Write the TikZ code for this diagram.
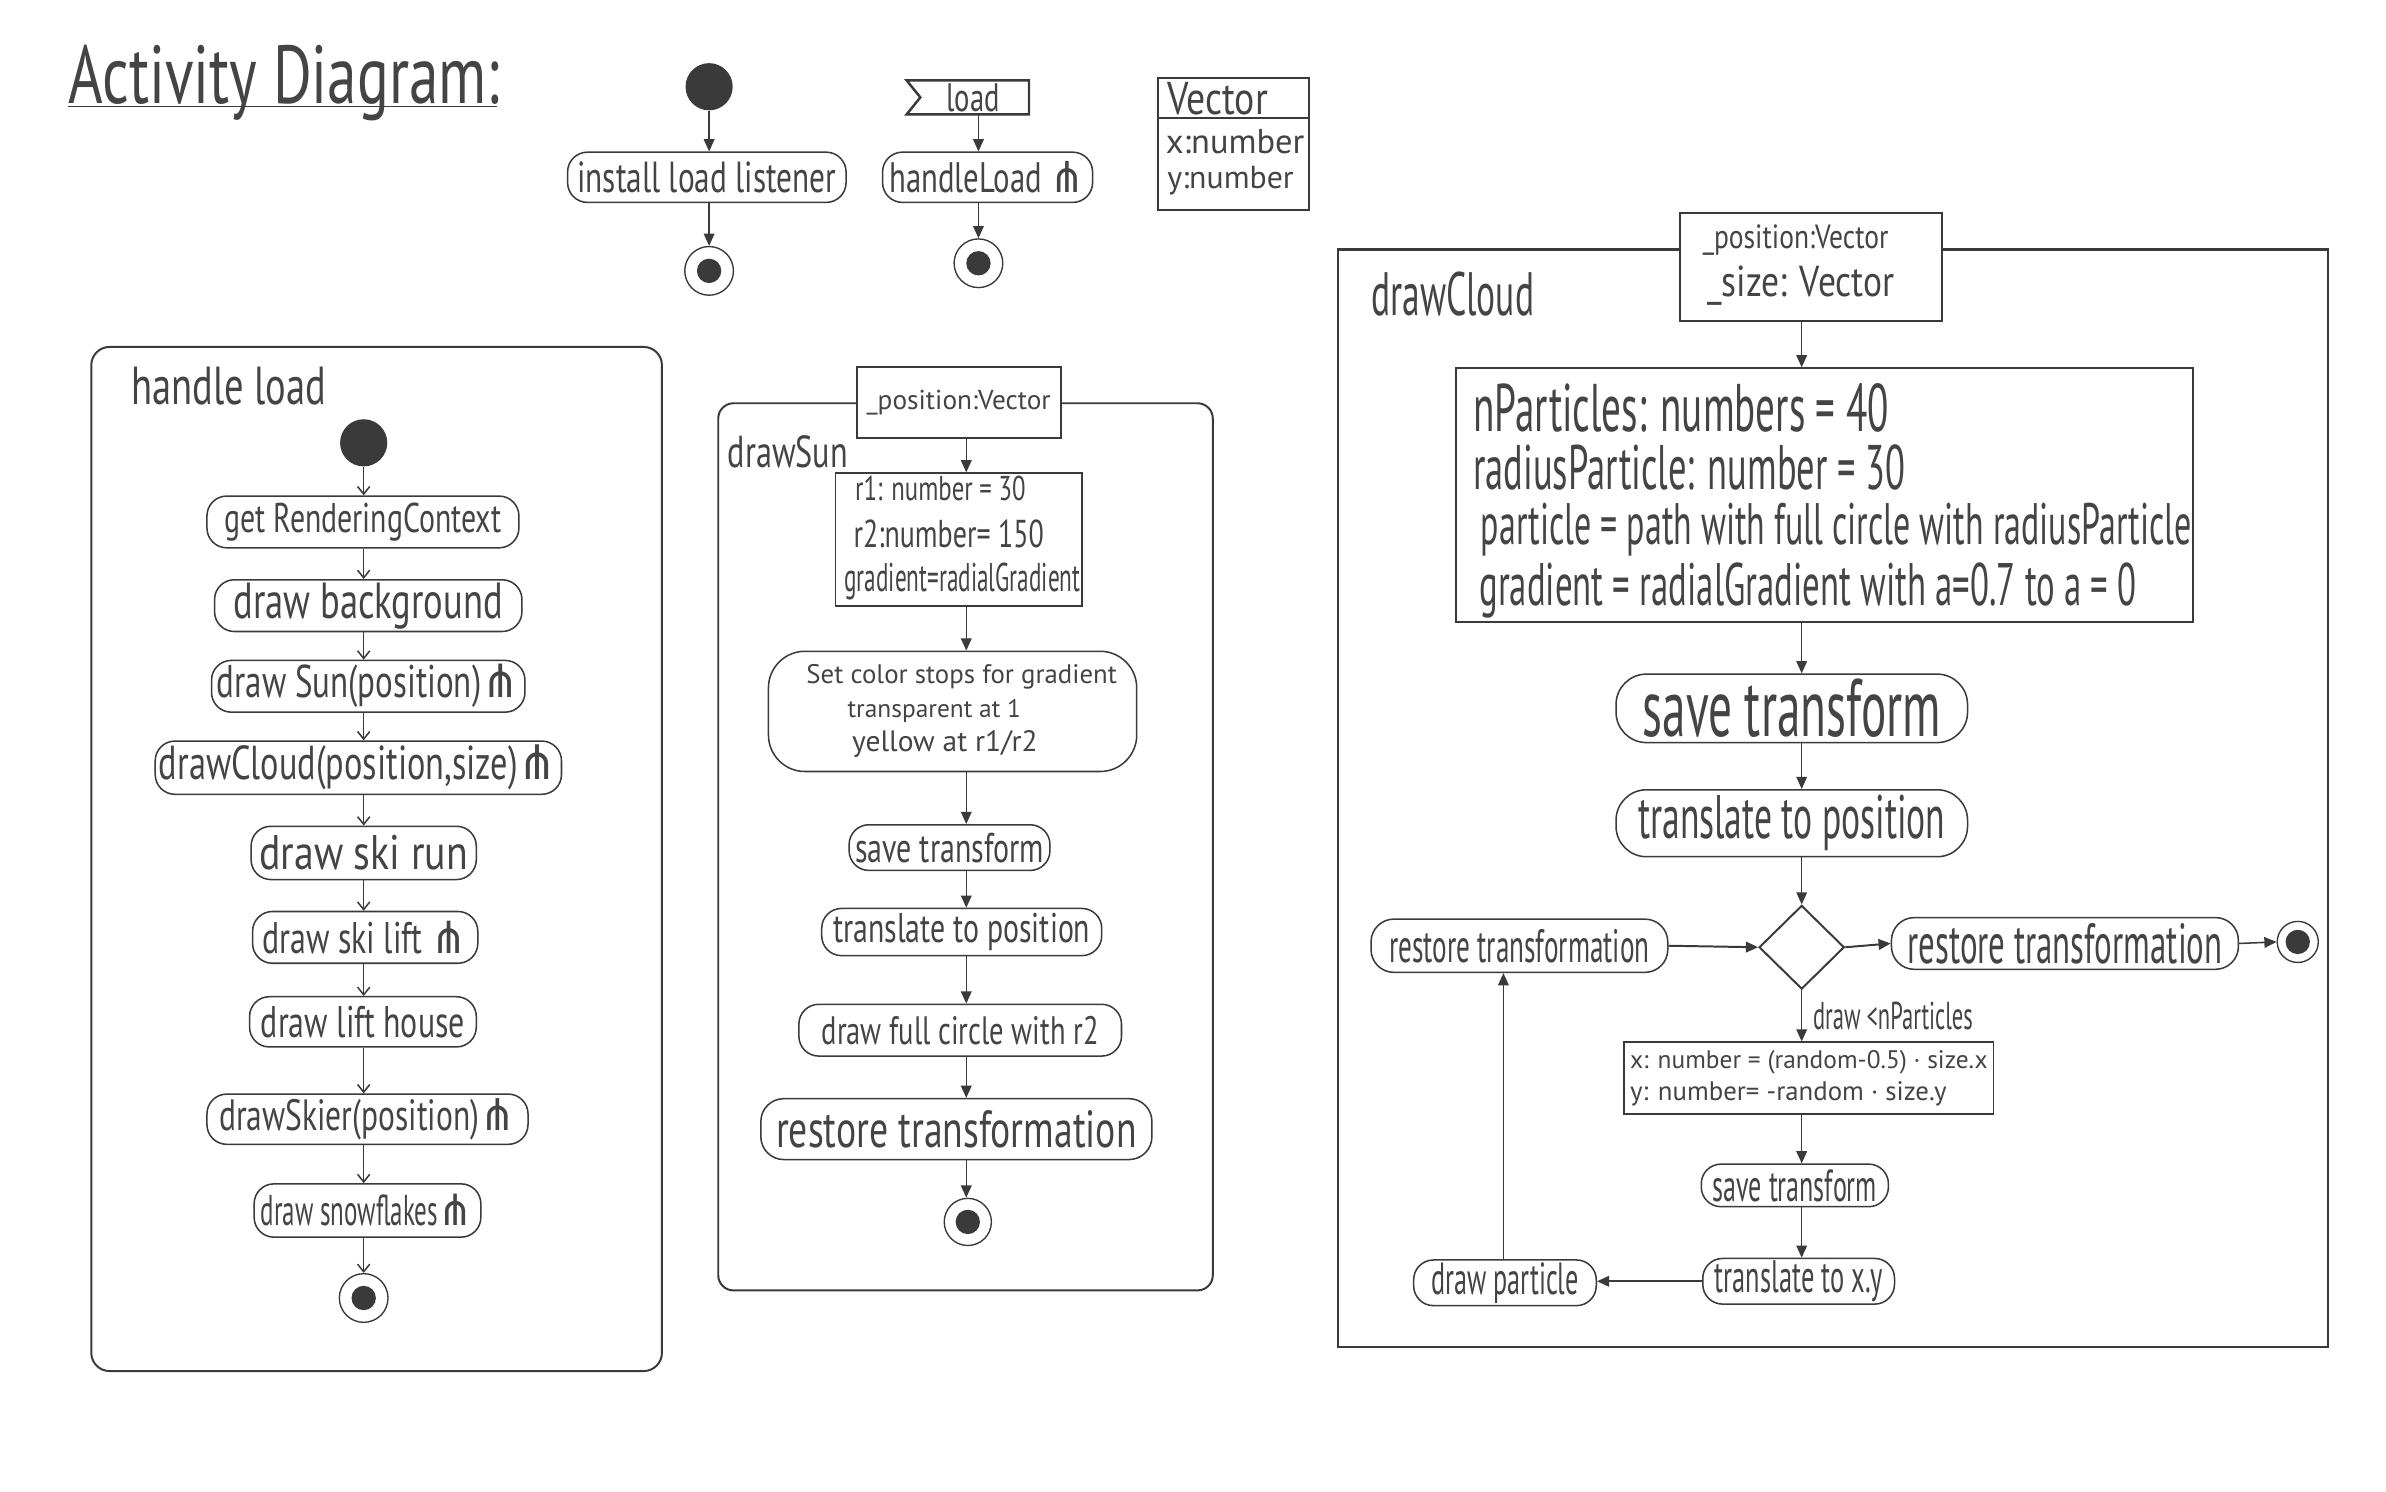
\documentclass[tikz,border=0pt]{standalone}
\usepackage{fontspec}
\usepackage{graphicx}
\setmainfont{PT Sans}
\newfontfamily\hand{PT Sans}[FakeStretch=0.72]
\newfontfamily\handn{PT Sans}[FakeStretch=0.58]
\newfontfamily\handm{PT Sans}[FakeStretch=0.82]
\newfontfamily\handw{PT Sans}
\newfontfamily\symf{DejaVu Sans}
\usetikzlibrary{arrows.meta,shapes.geometric,calc}
\definecolor{ink}{RGB}{58,58,58}
\definecolor{pen}{RGB}{68,68,68}
% text set to a given width
\newcommand\tw[2]{\resizebox{#1pt}{!}{#2}}
% rake symbol of a call behaviour action
\newcommand\rk{{\symf ⋔}}

\tikzset{
  act/.style={draw=ink, line width=1pt, rounded corners=13pt, fill=white,
    inner sep=0pt, text=pen, font=\hand},
  sz/.style 2 args={minimum width=#1pt, minimum height=#2pt},
  box/.style={draw=ink, line width=1.2pt, fill=white, inner sep=0pt, text=pen},
  txt/.style={inner sep=0pt, text=pen, font=\hand},
  txtn/.style={inner sep=0pt, text=pen, font=\handn},
  txtm/.style={inner sep=0pt, text=pen, font=\handm},
  txtw/.style={inner sep=0pt, text=pen, font=\handw},
  flow/.style={draw=ink, line width=1pt, -{Triangle[length=8pt,width=7pt]}},
  vflow/.style={draw=ink, line width=1pt, -{Straight Barb[length=5pt,width=8pt]}},
  initnode/.style={circle, fill=ink, minimum size=31pt, inner sep=0pt},
  finalnode/.style={circle, draw=ink, line width=0.9pt, fill=white,
    minimum size=#1pt, inner sep=0pt,
    path picture={\fill[ink] (path picture bounding box.center) circle (8pt);}},
  frame/.style={draw=ink, line width=1.3pt, inner sep=0pt},
}

\begin{document}
\begin{tikzpicture}[x=1pt,y=-1pt]
\fill[white] (0,0) rectangle (1568,980);
\useasboundingbox (0,0) rectangle (1568,980);

% ---------- title ----------
\node[txt, anchor=base west] (title) at (45,68) {\tw{283}{Activity Diagram:}};
\draw[ink, line width=1.2pt] ($(title.base west)+(0,2)$) -- ($(title.base east)+(-2,2)$);

% ---------- main program ----------
\node[initnode] (s0) at (466,57) {};
\node[act, sz={183}{33}] (inst) at (464.5,116.5) {\tw{170}{install load listener}};
\node[finalnode=32] (e0) at (466,178) {};
\coordinate (mx) at (466,0);
\draw[flow] (mx |- s0.south) -- (mx |- inst.north);
\draw[flow] (mx |- inst.south) -- (e0);

% ---------- load event ----------
\node[txt, minimum width=80pt, minimum height=22pt] (evt) at (636,64) {\hspace*{7pt}\tw{35}{load}};
\draw[ink, line width=1.6pt] (evt.north west) -- (evt.north east) -- (evt.south east)
  -- (evt.south west) -- ($(evt.west)+(9,0)$) -- cycle;
\node[act, sz={138}{33}] (hl) at (649,116.5) {\tw{129}{handleLoad \rk}};
\node[finalnode=32] (e1) at (643,173) {};
\coordinate (lx) at (643,0);
\draw[flow] (lx |- evt.south) -- (lx |- hl.north);
\draw[flow] (lx |- hl.south) -- (e1);

% ---------- Vector class ----------
\node[box, line width=1.4pt, sz={99}{87}] (vec) at (810.5,94.5) {};
\draw[ink, line width=1.4pt] ($(vec.north west)+(0,27)$) -- ($(vec.north east)+(0,27)$);
\node[txtm, anchor=west] (vname) at (767,65) {\tw{66}{Vector}};
\node[txtw, anchor=west] (vx) at (766,93) {\tw{91}{x:number}};
\node[txtw, anchor=west] (vy) at (767,119) {\tw{83}{y:number}};

% ---------- handle load ----------
\node[frame, rounded corners=12pt, sz={375}{673}] (hframe) at (247.5,564.5) {};
\node[txt, anchor=west] (hlabel) at (86,254) {\tw{128}{handle load}};
\node[initnode] (h0) at (239,291) {};
\node[act, sz={205}{34}] (h1) at (238.5,343) {\tw{182}{get RenderingContext}};
\node[act, sz={202}{34}] (h2) at (242,398) {\tw{177}{draw background}};
\node[act, sz={206}{34}] (h3) at (242,451) {\tw{199}{draw Sun(position)\rk}};
\node[act, sz={267}{35}] (h4) at (235.5,504.5) {\tw{262}{drawCloud(position,size)\rk}};
\node[act, sz={148}{35}, font=\handm] (h5) at (239,560.5) {\tw{137}{draw ski run}};
\node[act, sz={148}{34}] (h6) at (240,616) {\tw{135}{draw ski lift \rk}};
\node[act, sz={149}{33}] (h7) at (238.5,671.5) {\tw{134}{draw lift house}};
\node[act, sz={211}{33}] (h8) at (241.5,735.5) {\tw{195}{drawSkier(position)\rk}};
\node[act, sz={149}{35}, font=\handn] (h9) at (241.5,795.5) {\tw{140}{draw snowflakes\rk}};
\node[finalnode=32] (h10) at (239,853) {};
\coordinate (hx) at (239,0);
\foreach \a/\b in {h0/h1,h1/h2,h2/h3,h3/h4,h4/h5,h5/h6,h6/h7,h7/h8,h8/h9,h9/h10}
  \draw[vflow] (hx |- \a.south) -- (hx |- \b.north);

% ---------- drawSun ----------
\node[frame, rounded corners=10pt, sz={325}{583}] (sframe) at (634.5,556.5) {};
\node[box, sz={134}{47}] (sp) at (630,264.5) {\tw{121}{\_position:Vector}};
\node[txt, anchor=west] (slabel) at (478,297) {\tw{79}{drawSun}};
\node[box, sz={162}{87}] (sv) at (630,354.5) {};
\node[txt] (sv1) at (618,321) {\tw{112}{r1: number = 30}};
\node[txt] (sv2) at (623.5,351) {\tw{125}{r2:number= 150}};
\node[txtn] (sv3) at (632.5,382) {\tw{155}{gradient=radialGradient}};
\node[act, rounded corners=24pt, sz={242}{79}] (sc) at (626,467.5) {};
\node[txtw] (sc1) at (632,445) {\tw{204}{Set color stops for gradient}};
\node[txtw] (sc2) at (614,467) {\tw{114}{transparent at 1}};
\node[txtw] (sc3) at (621,489) {\tw{122}{yellow at r1/r2}};
\node[act, sz={132}{30}] (s1) at (624,557) {\tw{124}{save transform}};
\node[act, sz={184}{31}] (s2) at (632,612.5) {\tw{169}{translate to position}};
\node[act, sz={212}{34}] (s3) at (631,677) {\tw{182}{draw full circle with r2}};
\node[act, rounded corners=15pt, sz={257}{40}] (s4) at (628.5,742) {\tw{237}{restore transformation}};
\node[finalnode=31] (s5) at (636,803) {};
\coordinate (sx) at (635,0);
\foreach \a/\b in {sp/sv,sv/sc,sc/s1,s1/s2,s2/s3,s3/s4,s4/s5}
  \draw[flow] (sx |- \a.south) -- (sx |- \b.north);

% ---------- drawCloud ----------
\node[frame, line width=1.4pt, sz={651}{721}] (cframe) at (1204.5,524.5) {};
\node[box, sz={172}{71}] (cp) at (1190,175.5) {};
\node[txtm] (cp1) at (1180,158) {\tw{122}{\_position:Vector}};
\node[txtm] (cp2) at (1183.5,188) {\tw{123}{\_size: Vector}};
\node[txtn, anchor=west] (clabel) at (901,193) {\tw{107}{drawCloud}};
\node[box, sz={484}{167}] (cv) at (1199,325.5) {};
\node[txtn, anchor=west] (cv1) at (968,268) {\tw{273}{nParticles: numbers = 40}};
\node[txtn, anchor=west] (cv2) at (968,307) {\tw{284}{radiusParticle: number = 30}};
\node[txtn, anchor=west] (cv3) at (973,348) {\tw{467}{particle = path with full circle with radiusParticle}};
\node[txtn, anchor=west] (cv4) at (972,388) {\tw{432}{gradient = radialGradient with a=0.7 to a = 0}};
\node[act, font=\handn, rounded corners=20pt, sz={231}{45}] (c1) at (1177.5,465.5) {\tw{196}{save transform}};
\node[act, font=\handn, rounded corners=20pt, sz={231}{44}] (c2) at (1177.5,541) {\tw{202}{translate to position}};
\node[diamond, draw=ink, line width=1.3pt, fill=white, minimum width=56pt,
  minimum height=55pt, inner sep=0pt] (cd) at (1184,622.5) {};
\node[act, font=\handn, rounded corners=15pt, sz={195}{35}] (cl) at (998.5,621.5) {\tw{171}{restore transformation}};
\node[act, font=\handn, rounded corners=15pt, sz={228}{34}] (cr) at (1357,620) {\tw{207}{restore transformation}};
\node[finalnode=27] (ce) at (1510,619) {};
\node[box, sz={243}{47}] (cx) at (1188.5,708.5) {};
\node[txtw, anchor=west] (cx1) at (1071,698) {\tw{235}{x: number = (random-0.5) · size.x}};
\node[txtw, anchor=west] (cx2) at (1071,719) {\tw{208}{y: number= -random · size.y}};
\node[act, font=\handn, sz={123}{28}] (c3) at (1179.5,779) {\tw{108}{save transform}};
\node[act, font=\handn, sz={126}{30}] (c4) at (1182,842) {\tw{110}{translate to x.y}};
\node[act, font=\handn, sz={120}{30}] (c5) at (989,843) {\tw{97}{draw particle}};
\coordinate (cxx) at (1184,0);
\foreach \a/\b in {cp/cv,cv/c1,c1/c2,c2/cd}
  \draw[flow] (cxx |- \a.south) -- (cxx |- \b.north);
\draw[flow] (cd.south) -- (cd.south |- cx.north)
  node[midway, right=7pt, txtn] (guard) {\tw{105}{draw <nParticles}};
\draw[flow] (cxx |- cx.south) -- (cxx |- c3.north);
\draw[flow] (cxx |- c3.south) -- (cxx |- c4.north);
\draw[flow, line width=1.3pt] (c4.west) -- (c4.west -| c5.east);
\draw[flow] (c5.north -| 988,0) -- (cl.south -| 988,0);
\draw[flow, line width=1.3pt] (cl.east) -- (cd.west);
\draw[flow, line width=1.3pt] (cd.east) -- (cr.west);
\draw[flow] (cr.east) -- (ce.west);
\end{tikzpicture}
\end{document}
